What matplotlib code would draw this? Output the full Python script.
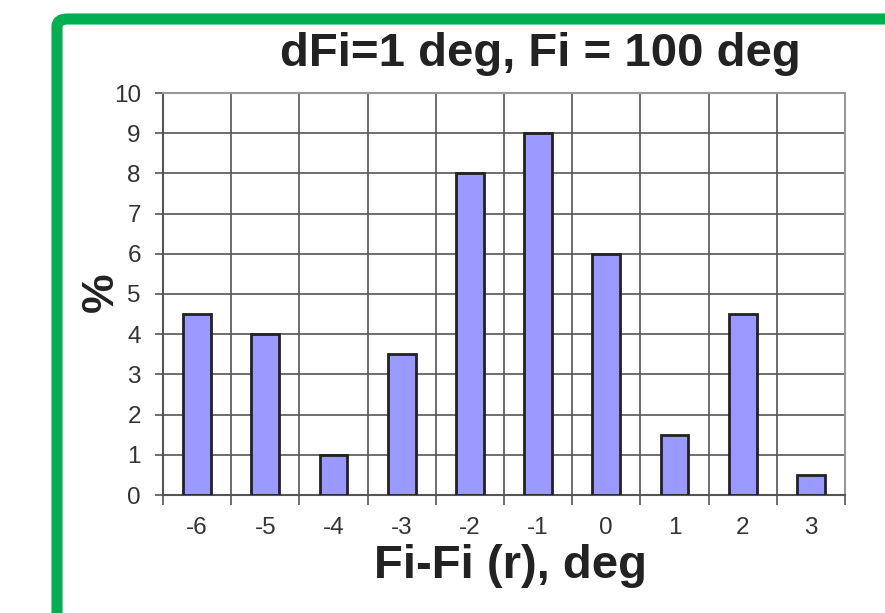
import numpy as np
import matplotlib.pyplot as plt
from matplotlib.patches import FancyBboxPatch

# values
categories = ["-6", "-5", "-4", "-3", "-2", "-1", "0", "1", "2", "3"]
percent = [4.5, 4, 1, 3.5, 8, 9, 6, 1.5, 4.5, 0.5]
yticks = list(range(0, 11))

plt.rcParams['font.family'] = ['Liberation Sans', 'DejaVu Sans']

fig = plt.figure(figsize=(8.85, 6.13), dpi=100)
W, H = 885, 613

# green slide frame (left and top edges only visible)
frame = FancyBboxPatch((57 / W, -0.2), 1.2, (613 - 19) / H + 0.2,
                       boxstyle="round,pad=0,rounding_size=0.012",
                       transform=fig.transFigure, fill=False,
                       edgecolor="#00B050", linewidth=8, clip_on=False)
fig.patches.append(frame)

ax = fig.add_axes([163 / W, (613 - 495) / H, (845 - 163) / W, (495 - 93) / H])
x = np.arange(len(categories))
ax.bar(x, percent, width=0.41, color="#9999FF", edgecolor="#222222",
       linewidth=2, zorder=3)

ax.set_xlim(-0.5, len(categories) - 0.5)
ax.set_ylim(0, 10)
ax.set_yticks(yticks)
ax.set_xticks(x)
ax.set_xticklabels(categories)
ax.set_xticks(np.arange(-0.5, len(categories)), minor=True)
ax.tick_params(axis="x", which="major", length=0, pad=16, labelsize=17.5,
               labelcolor="#333333")
ax.tick_params(axis="x", which="minor", length=7, width=1.2, color="#555555")
ax.tick_params(axis="y", length=6, width=1.2, color="#555555", pad=10,
               labelsize=17.5, labelcolor="#333333")

ax.grid(True, axis="y", which="major", color="#555555", linewidth=1.2, zorder=0)
ax.grid(True, axis="x", which="minor", color="#555555", linewidth=1.2, zorder=0)
ax.set_axisbelow(True)

for side in ["left", "bottom"]:
    ax.spines[side].set_color("#555555")
    ax.spines[side].set_linewidth(1.5)
for side in ["right", "top"]:
    ax.spines[side].set_color("#999999")
    ax.spines[side].set_linewidth(1.5)

fig.text(540 / W, 1 - 54 / H, "dFi=1 deg, Fi = 100 deg", ha="center",
         va="center", fontsize=34, fontweight="bold", color="#222222")
fig.text(510 / W, 1 - 566 / H, "Fi-Fi (r), deg", ha="center", va="center",
         fontsize=34, fontweight="bold", color="#222222")
fig.text(101 / W, 1 - 292 / H, "%", ha="center", va="center", rotation=90,
         fontsize=32, fontweight="bold", color="#222222")

fig.savefig("out.png", dpi=100)
